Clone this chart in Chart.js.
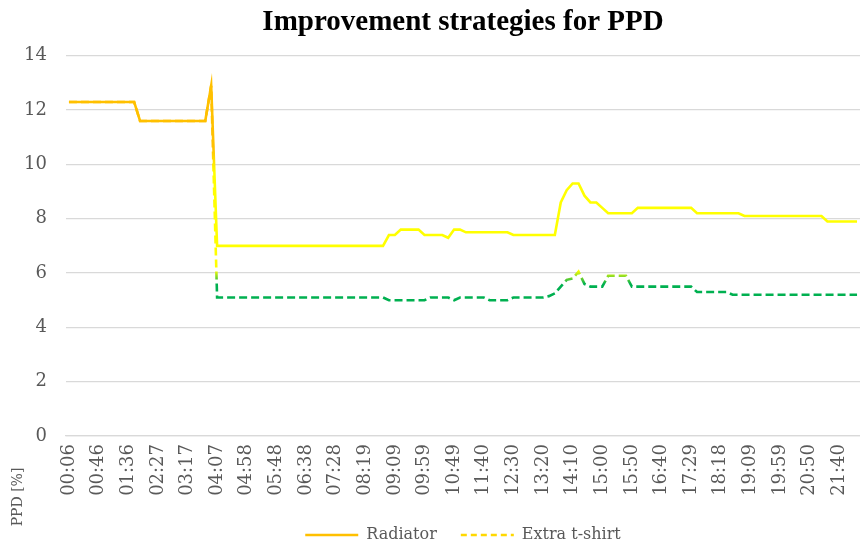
<!DOCTYPE html>
<html>
<head>
    <meta charset="utf-8" />
    <title>Improvement strategies for PPD</title>
    <script src="https://cdn.jsdelivr.net/npm/chart.js@4/dist/chart.umd.min.js"></script>
    <style>
      html, body { margin: 0; padding: 0; background: #fff; }
      #wrap { width: 860px; height: 542px; position: relative; }
    </style>
</head>
<body>
    <div id="wrap">
        <canvas id="chart-ppd"></canvas>
    </div>

    <script>
      // time stamps (every 5th one is printed on the axis)
      var times = [
        "00:06","00:14","00:22","00:30","00:38","00:46","00:56","01:06","01:16","01:26",
        "01:36","01:46","01:56","02:06","02:16","02:27","02:37","02:47","02:57","03:07",
        "03:17","03:27","03:37","03:47","03:57","04:07","04:17","04:27","04:37","04:47",
        "04:58","05:08","05:18","05:28","05:38","05:48","05:58","06:08","06:18","06:28",
        "06:38","06:48","06:58","07:08","07:18","07:28","07:38","07:48","07:58","08:08",
        "08:19","08:29","08:39","08:49","08:59","09:09","09:19","09:29","09:39","09:49",
        "09:59","10:09","10:19","10:29","10:39","10:49","10:59","11:09","11:19","11:29",
        "11:40","11:50","12:00","12:10","12:20","12:30","12:40","12:50","13:00","13:10",
        "13:20","13:30","13:40","13:50","14:00","14:10","14:20","14:30","14:40","14:50",
        "15:00","15:10","15:20","15:30","15:40","15:50","16:00","16:10","16:20","16:30",
        "16:40","16:50","17:00","17:10","17:19","17:29","17:39","17:49","17:59","18:08",
        "18:18","18:28","18:38","18:48","18:59","19:09","19:19","19:29","19:39","19:49",
        "19:59","20:09","20:19","20:29","20:40","20:50","21:00","21:10","21:20","21:30",
        "21:40","21:50","22:00","22:10"
      ];

      // PPD [%] with radiator
      var radiator = [
        12.3,12.3,12.3,12.3,12.3,12.3,12.3,12.3,12.3,12.3,
        12.3,12.3,11.6,11.6,11.6,11.6,11.6,11.6,11.6,11.6,
        11.6,11.6,11.6,11.6,12.9,7.0,7.0,7.0,7.0,7.0,
        7.0,7.0,7.0,7.0,7.0,7.0,7.0,7.0,7.0,7.0,
        7.0,7.0,7.0,7.0,7.0,7.0,7.0,7.0,7.0,7.0,
        7.0,7.0,7.0,7.0,7.4,7.4,7.6,7.6,7.6,7.6,
        7.4,7.4,7.4,7.4,7.3,7.6,7.6,7.5,7.5,7.5,
        7.5,7.5,7.5,7.5,7.5,7.4,7.4,7.4,7.4,7.4,
        7.4,7.4,7.4,8.6,9.05,9.3,9.3,8.85,8.6,8.6,
        8.4,8.2,8.2,8.2,8.2,8.2,8.4,8.4,8.4,8.4,
        8.4,8.4,8.4,8.4,8.4,8.4,8.2,8.2,8.2,8.2,
        8.2,8.2,8.2,8.2,8.1,8.1,8.1,8.1,8.1,8.1,
        8.1,8.1,8.1,8.1,8.1,8.1,8.1,8.1,7.9,7.9,
        7.9,7.9,7.9,7.9
      ];

      // PPD [%] with extra t-shirt
      var tshirt = [
        12.3,12.3,12.3,12.3,12.3,12.3,12.3,12.3,12.3,12.3,
        12.3,12.3,11.6,11.6,11.6,11.6,11.6,11.6,11.6,11.6,
        11.6,11.6,11.6,11.6,12.9,5.1,5.1,5.1,5.1,5.1,
        5.1,5.1,5.1,5.1,5.1,5.1,5.1,5.1,5.1,5.1,
        5.1,5.1,5.1,5.1,5.1,5.1,5.1,5.1,5.1,5.1,
        5.1,5.1,5.1,5.1,5.0,5.0,5.0,5.0,5.0,5.0,
        5.0,5.1,5.1,5.1,5.1,5.0,5.1,5.1,5.1,5.1,
        5.1,5.0,5.0,5.0,5.0,5.1,5.1,5.1,5.1,5.1,
        5.1,5.15,5.25,5.5,5.75,5.8,6.05,5.6,5.5,5.5,
        5.5,5.9,5.9,5.9,5.9,5.5,5.5,5.5,5.5,5.5,
        5.5,5.5,5.5,5.5,5.5,5.5,5.3,5.3,5.3,5.3,
        5.3,5.3,5.2,5.2,5.2,5.2,5.2,5.2,5.2,5.2,
        5.2,5.2,5.2,5.2,5.2,5.2,5.2,5.2,5.2,5.2,
        5.2,5.2,5.2,5.2
      ];

      var yTicks = [0, 2, 4, 6, 8, 10, 12, 14];

      var tickColor = "#595959";
      var serif = "'DejaVu Serif', serif";

      // line colour follows the value: green low, yellow middle, gold high
      function valueGradient(context) {
        var chart = context.chart;
        if (!chart.chartArea) return;
        var y = chart.scales.y;
        var g = chart.ctx.createLinearGradient(0, y.getPixelForValue(0), 0, y.getPixelForValue(14));
        g.addColorStop(0, "#00B050");
        g.addColorStop(5.6 / 14, "#00B050");
        g.addColorStop(6.1 / 14, "#FFFF00");
        g.addColorStop(9.7 / 14, "#FFFF00");
        g.addColorStop(10.6 / 14, "#FFC000");
        g.addColorStop(1, "#FFC000");
        return g;
      }

      // y axis title sits low on the left, as in the original
      var yTitlePlugin = {
        id: "yTitle",
        afterDraw: function(chart) {
          var c = chart.ctx;
          c.save();
          c.translate(18, 497);
          c.rotate(-Math.PI / 2);
          c.font = "14px " + serif;
          c.fillStyle = tickColor;
          c.textAlign = "center";
          c.textBaseline = "middle";
          c.fillText("PPD [%]", 0, 0);
          c.restore();
        }
      };

      var ctx = document.getElementById("chart-ppd").getContext("2d");
      new Chart(ctx, {
        type: "line",
        data: {
          labels: times,
          datasets: [{
            label: "Radiator",
            data: radiator,
            borderColor: valueGradient,
            borderWidth: 2.6,
            pointRadius: 0,
            tension: 0,
            fill: false
          }, {
            label: "Extra t-shirt",
            data: tshirt,
            borderColor: valueGradient,
            borderWidth: 2.6,
            borderDash: [8, 4],
            pointRadius: 0,
            tension: 0,
            fill: false
          }]
        },
        options: {
          responsive: true,
          maintainAspectRatio: false,
          animation: false,
          layout: { padding: { left: 0, right: 0, top: 0, bottom: 0 } },
          plugins: {
            title: {
              display: true,
              fullSize: false,
              text: "Improvement strategies for PPD",
              color: "#000",
              font: { family: "'Liberation Serif', serif", size: 29, weight: "bold" },
              padding: { top: 5, bottom: 16 }
            },
            legend: {
              position: "bottom",
              fullSize: false,
              maxHeight: 39,
              labels: {
                usePointStyle: true,
                pointStyleWidth: 53,
                padding: 24,
                color: tickColor,
                font: { family: serif, size: 16 },
                generateLabels: function(chart) {
                  return [{
                    text: "Radiator", datasetIndex: 0, pointStyle: "line",
                    strokeStyle: "#FFC000", fillStyle: "#FFC000", lineWidth: 2.6,
                    lineDash: [], fontColor: tickColor
                  }, {
                    text: "Extra t-shirt", datasetIndex: 1, pointStyle: "line",
                    strokeStyle: "#FFD800", fillStyle: "#FFD800", lineWidth: 2.6,
                    lineDash: [6, 4], fontColor: tickColor
                  }];
                }
              }
            },
            tooltip: { enabled: false }
          },
          scales: {
            x: {
              offset: true,
              grid: { display: false, drawTicks: false },
              border: { color: "#d9d9d9", width: 1.3 },
              ticks: {
                autoSkip: false,
                maxRotation: 90,
                minRotation: 90,
                padding: 8,
                color: tickColor,
                font: { family: serif, size: 18 },
                callback: function(val, index) {
                  return index % 5 === 0 ? this.getLabelForValue(val) : null;
                }
              },
              afterFit: function(scale) {
                scale.height = 67;
                scale.paddingLeft = 0;
                scale.paddingRight = 0;
              }
            },
            y: {
              min: 0,
              max: 14,
              afterBuildTicks: function(scale) {
                scale.ticks = yTicks.map(function(v) { return { value: v }; });
              },
              grid: { color: "#d9d9d9", lineWidth: 1.3, drawTicks: false },
              border: { display: false },
              ticks: {
                padding: 19,
                color: tickColor,
                font: { family: serif, size: 18 }
              },
              afterFit: function(scale) { scale.width = 66; }
            }
          }
        },
        plugins: [yTitlePlugin]
      });
    </script>
</body>
</html>
